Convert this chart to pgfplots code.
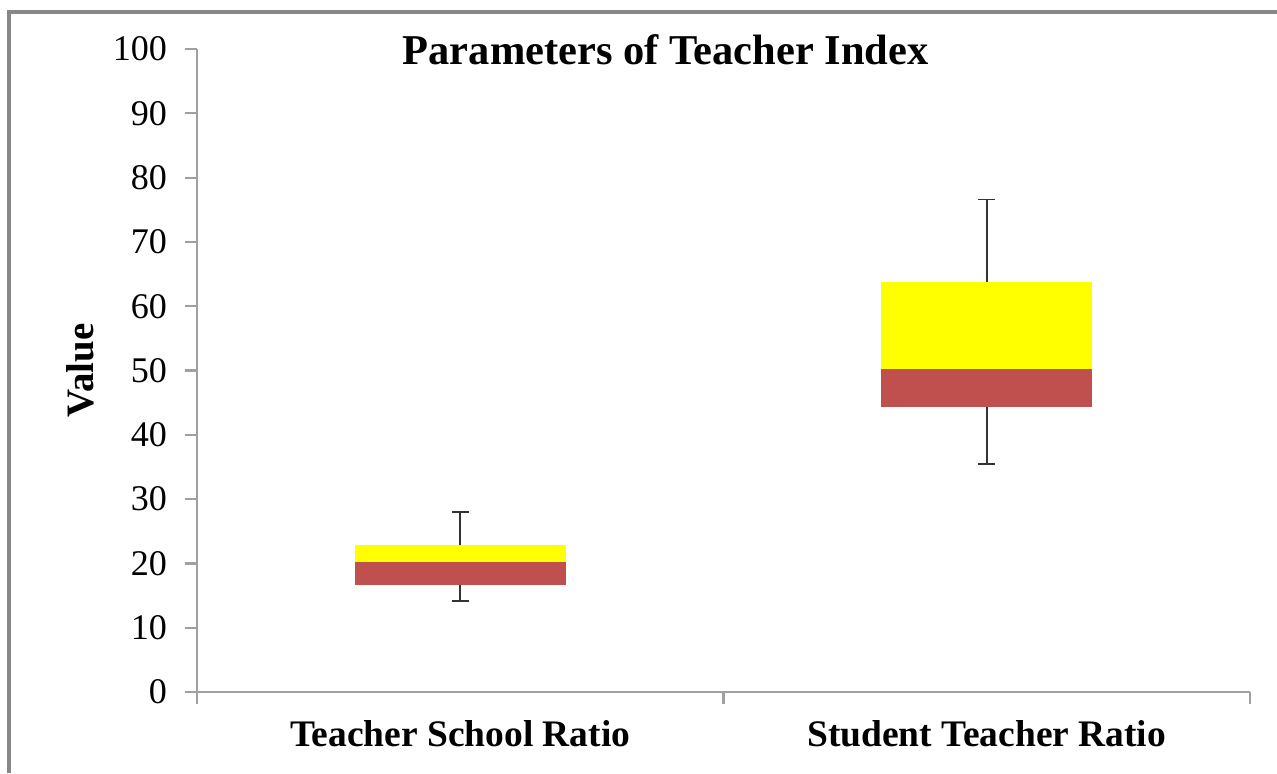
\documentclass[border=0pt]{standalone}
\usepackage{pgfplots}
\pgfplotsset{compat=1.18}
\usepackage{fontspec}
\setmainfont{Liberation Serif}
\definecolor{boxred}{HTML}{C0504D}
\definecolor{boxyellow}{HTML}{FFFF00}
\definecolor{axgrey}{HTML}{A0A0A0}
\definecolor{framegrey}{HTML}{878787}
\begin{document}
\begin{tikzpicture}[x=0.36022pt,y=0.36022pt]
\begin{axis}[
  at={(0,0)}, anchor=origin,
  scale only axis,
  width=379.3pt, height=231.6pt,
  xmin=0, xmax=2, ymin=0, ymax=100,
  axis lines=left,
  axis line style={axgrey, line width=0.8pt, -},
  xtick={0,1,2}, xticklabels={},
  extra x ticks={0.5,1.5},
  extra x tick labels={Teacher School Ratio, Student Teacher Ratio},
  extra x tick style={major tick length=0pt, tick style={draw=none},
     xticklabel style={font=\fontsize{13.5}{16}\selectfont\bfseries, yshift=-6.8pt}},
  ytick={0,10,...,100},
  tick align=outside,
  major tick length=4.3pt,
  tick style={axgrey, line width=0.8pt},
  yticklabel style={font=\fontsize{13}{15}\selectfont, xshift=-3pt},
  /pgf/number format/assume math mode=true,
  ylabel={Value},
  ylabel style={font=\fontsize{14}{16}\selectfont\bfseries, yshift=0pt},
  title={Parameters of Teacher Index},
  title style={font=\fontsize{15.3}{17}\selectfont\bfseries, at={(0.445,1)}, anchor=center, yshift=-6.4pt},
  clip=false,
]
% Teacher School Ratio
\addplot[fill=boxred, draw=none] coordinates {(0.3,16.7) (0.7,16.7) (0.7,20.2) (0.3,20.2)} -- cycle;
\addplot[fill=boxyellow, draw=none] coordinates {(0.3,20.2) (0.7,20.2) (0.7,22.8) (0.3,22.8)} -- cycle;
\addplot[black!80, line width=0.7pt] coordinates {(0.5,22.8) (0.5,28.0)};
\addplot[black!80, line width=0.7pt] coordinates {(0.484,28.0) (0.516,28.0)};
\addplot[black!80, line width=0.7pt] coordinates {(0.5,16.7) (0.5,14.2)};
\addplot[black!80, line width=0.7pt] coordinates {(0.484,14.2) (0.516,14.2)};
% Student Teacher Ratio
\addplot[fill=boxred, draw=none] coordinates {(1.3,44.4) (1.7,44.4) (1.7,50.2) (1.3,50.2)} -- cycle;
\addplot[fill=boxyellow, draw=none] coordinates {(1.3,50.2) (1.7,50.2) (1.7,63.7) (1.3,63.7)} -- cycle;
\addplot[black!80, line width=0.7pt] coordinates {(1.5,63.7) (1.5,76.6)};
\addplot[black!80, line width=0.7pt] coordinates {(1.484,76.6) (1.516,76.6)};
\addplot[black!80, line width=0.7pt] coordinates {(1.5,44.4) (1.5,35.5)};
\addplot[black!80, line width=0.7pt] coordinates {(1.484,35.5) (1.516,35.5)};
\end{axis}
% bounding box (pixel units relative to axis origin at 197,692)
\useasboundingbox (-197,-81) rectangle (1080,692);
\draw[framegrey, line width=1.1pt] (-188,-81) -- (-188,680) -- (1080,680);
\end{tikzpicture}
\end{document}
